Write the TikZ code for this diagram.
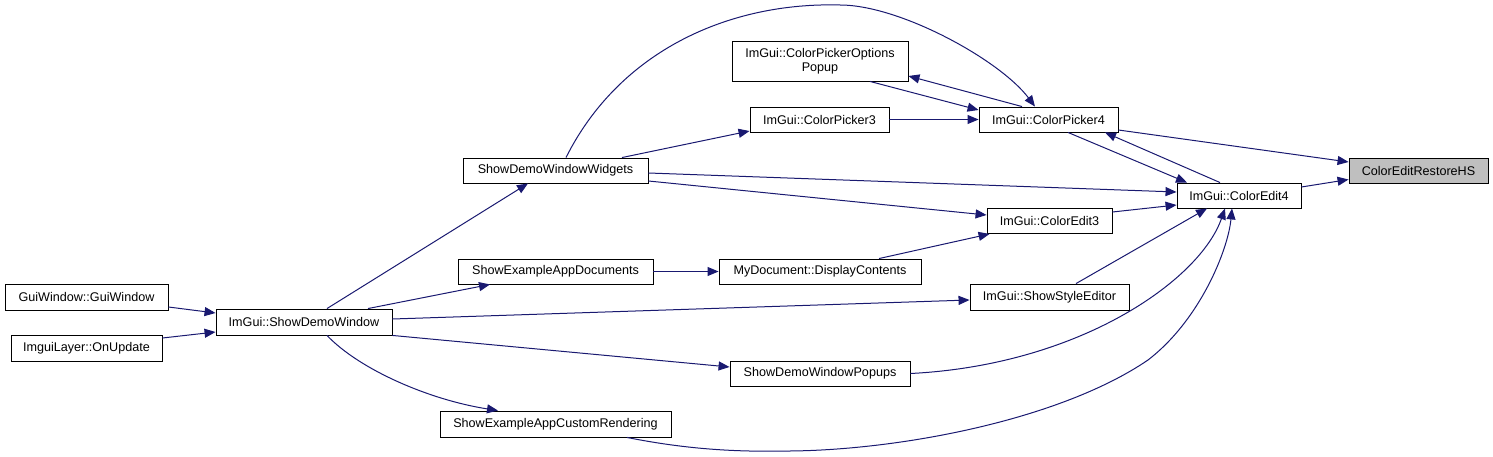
\documentclass[tikz,border=0pt]{standalone}
\usepackage{fontspec}
\setmainfont{Liberation Sans}
\usetikzlibrary{arrows.meta}
\definecolor{edgecol}{HTML}{191970}
\definecolor{restgray}{HTML}{BFBFBF}
\begin{document}
\begin{tikzpicture}[x=1pt,y=-1pt,
  box/.style={draw=black, line width=0.9pt, fill=white, inner sep=0pt, align=center,
    font=\fontsize{12.6}{14}\selectfont},
  edge/.style={draw=edgecol, line width=1pt, -{Triangle[length=11pt,width=9pt]}}]
\useasboundingbox (0,0) rectangle (1493,457);
% nodes
\node[box, fill=restgray, minimum width=139, minimum height=25] (R) at (1418.5,170.5) {ColorEditRestoreHS};
\node[box, minimum width=139, minimum height=25] (CP4) at (1048.5,119.5) {ImGui::ColorPicker4};
\node[box, minimum width=176, minimum height=40] (CPO) at (820,61) {ImGui::ColorPickerOptions\\Popup};
\node[box, minimum width=139, minimum height=25] (CP3) at (819.5,119.5) {ImGui::ColorPicker3};
\node[box, minimum width=124, minimum height=25] (CE4) at (1239,195.5) {ImGui::ColorEdit4};
\node[box, minimum width=125, minimum height=25] (CE3) at (1049.5,221) {ImGui::ColorEdit3};
\node[box, minimum width=185, minimum height=25] (SDWW) at (555.5,170.5) {ShowDemoWindowWidgets};
\node[box, minimum width=195, minimum height=25] (SEAD) at (555.5,271.5) {ShowExampleAppDocuments};
\node[box, minimum width=202, minimum height=25] (MDC) at (820,271.5) {MyDocument::DisplayContents};
\node[box, minimum width=159, minimum height=26] (SSE) at (1049.5,297) {ImGui::ShowStyleEditor};
\node[box, minimum width=176, minimum height=26] (SDW) at (304,322) {ImGui::ShowDemoWindow};
\node[box, minimum width=163, minimum height=26] (GW) at (86.5,297) {GuiWindow::GuiWindow};
\node[box, minimum width=151, minimum height=26] (IL) at (86.5,348) {ImguiLayer::OnUpdate};
\node[box, minimum width=180, minimum height=25] (SDWP) at (820,373.5) {ShowDemoWindowPopups};
\node[box, minimum width=231, minimum height=26] (SEACR) at (555.5,424) {ShowExampleAppCustomRendering};
% edges
\draw[edge] ([yshift=-10.5]CP4.east) -- ([yshift=8.5]R.west);
\draw[edge] ([yshift=8.5]CE4.east) -- ([yshift=-9]R.west);
\draw[edge] ([xshift=50]CPO.south) -- ([yshift=9.5]CP4.west);
\draw[edge] ([xshift=-26.5]CP4.north) -- ([yshift=-15]CPO.east);
\draw[edge] (CP3.east) -- (CP4.west);
\draw[edge] ([xshift=10.5]SDWW.north) .. controls (620,50) and (730,2) .. (840,5)
  .. controls (900,5) and (1000,60) .. ([xshift=-13.5]CP4.north);
\draw[edge] ([xshift=66.5]SDWW.north) -- ([yshift=-11.5]CP3.west);
\draw[edge] ([xshift=19.5]CP4.south) -- ([xshift=-52]CE4.north);
\draw[edge] ([xshift=-19]CE4.north) -- ([xshift=56.5]CP4.south);
\draw[edge] ([yshift=-2.5]SDWW.east) -- ([yshift=3.5]CE4.west);
\draw[edge] ([yshift=-10.5]SDWW.east) -- ([yshift=6]CE3.west);
\draw[edge] ([yshift=9]CE3.east) -- ([yshift=-9.5]CE4.west);
\draw[edge] ([xshift=59]MDC.north) -- ([xshift=3]CE3.south west);
\draw[edge] (SEAD.east) -- (MDC.west);
\draw[edge] ([xshift=64]SDW.north) -- ([xshift=-65.5]SEAD.south);
\draw[edge] ([xshift=23]SDW.north) -- ([xshift=-27.5]SDWW.south);
\draw[edge] ([yshift=3]SDW.east) -- ([yshift=-3]SSE.west);
\draw[edge] ([xshift=26.5]SSE.north) -- ([xshift=-32]CE4.south);
\draw[edge] (SDW.south east) -- ([yshift=6.5]SDWP.west);
\draw[edge] (SDWP.east) .. controls (1080,365) and (1200,280) .. ([xshift=-14]CE4.south);
\draw[edge] ([xshift=23]SDW.south) .. controls (360,370) and (430,400) .. ([xshift=-57.5]SEACR.north);
\draw[edge] ([xshift=71.5]SEACR.south) .. controls (690,450) and (740,452) .. (790,451)
  .. controls (900,450) and (1060,420) .. (1148,360)
  .. controls (1200,320) and (1228,250) .. ([xshift=-7]CE4.south);
\draw[edge] ([yshift=-10]GW.east) -- ([yshift=9]SDW.west);
\draw[edge] ([yshift=10]IL.east) -- ([yshift=-10]SDW.west);
\end{tikzpicture}
\end{document}
